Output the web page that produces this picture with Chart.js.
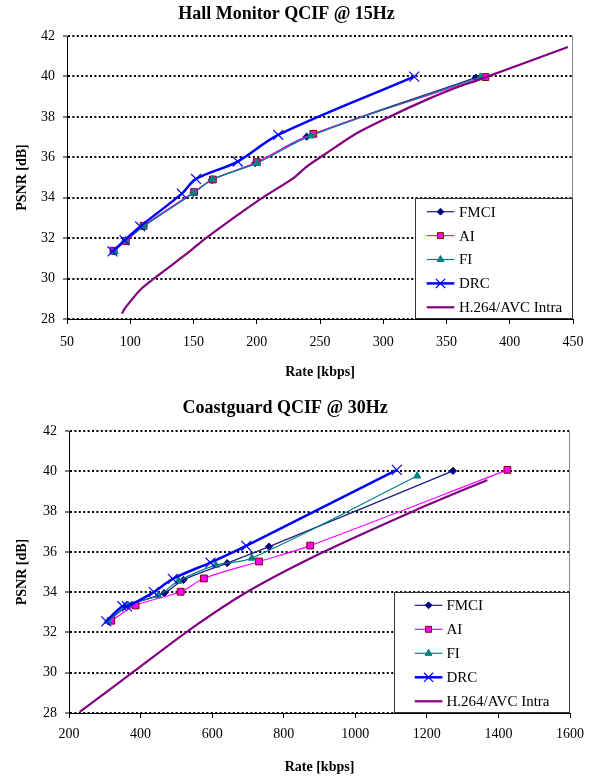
<!DOCTYPE html>
<html><head><meta charset="utf-8">
<script src="https://cdn.jsdelivr.net/npm/chart.js@4.4.1/dist/chart.umd.min.js"></script>
<style>
html,body{margin:0;padding:0;background:#fff;width:602px;height:780px;overflow:hidden}
canvas{display:block;position:absolute;left:0}
#c1{top:0}#c2{top:392px}
</style></head><body>
<canvas id="c1" width="602" height="392"></canvas>
<canvas id="c2" width="602" height="388"></canvas>
<script>
// ---- series names ----
const seriesNames = ['FMCI', 'AI', 'FI', 'DRC', 'H.264/AVC Intra'];

// ---- Hall Monitor QCIF @ 15Hz ----
const hallFMCI_rate = [86.8, 96, 110.5, 150, 164.5, 198.7, 239.5, 373.2];
const hallFMCI_psnr = [31.34, 31.84, 32.58, 34.23, 34.88, 35.71, 37.02, 39.94];
const hallAI_rate = [86.8, 96.5, 110.5, 150.5, 165.3, 200, 244.7, 380.8];
const hallAI_psnr = [31.38, 31.86, 32.61, 34.28, 34.9, 35.76, 37.16, 39.97];
const hallFI_rate = [87.6, 96.3, 110.5, 150, 164.8, 200, 242.6, 376.8];
const hallFI_psnr = [31.34, 31.9, 32.58, 34.23, 34.9, 35.71, 37.06, 39.97];
const hallDRC_rate = [86, 95.5, 107.9, 140.8, 152, 185, 217, 324.5];
const hallDRC_psnr = [31.34, 31.89, 32.58, 34.2, 34.93, 35.79, 37.11, 39.99];
const hallH264_rate = [93.4, 96, 108, 121, 147, 158, 200, 229, 239.5, 255, 279, 305, 334, 360, 373, 446];
const hallH264_psnr = [28.27, 28.55, 29.45, 30.11, 31.34, 31.92, 33.81, 34.97, 35.54, 36.2, 37.19, 38.01, 38.84, 39.5, 39.78, 41.46];

// ---- Coastguard QCIF @ 30Hz ----
const cgFMCI_rate = [310, 365, 466, 520, 642, 759, 1273];
const cgFMCI_psnr = [32.55, 33.32, 33.95, 34.61, 35.44, 36.26, 40.02];
const cgAI_rate = [318, 386, 512, 577, 731, 874, 1425];
const cgAI_psnr = [32.58, 33.34, 34.02, 34.68, 35.52, 36.31, 40.07];
const cgFI_rate = [309, 365, 449, 506, 610, 711, 1173];
const cgFI_psnr = [32.55, 33.35, 33.83, 34.55, 35.34, 35.69, 39.77];
const cgDRC_rate = [304, 349, 362, 437, 490, 595, 695, 1116];
const cgDRC_psnr = [32.55, 33.3, 33.29, 34.0, 34.66, 35.47, 36.3, 40.07];
const cgH264_rate = [230, 388, 537, 695, 905, 1170, 1369];
const cgH264_psnr = [28.05, 30.15, 32.13, 33.98, 35.94, 38.08, 39.57];

// ---- axis ticks ----
const psnrMin = 28, psnrMax = 42, psnrStep = 2;
const hallRateMin = 50, hallRateMax = 450, hallRateStep = 50;
const cgRateMin = 200, cgRateMax = 1600, cgRateStep = 200;

const SERIF = '"Liberation Serif", "DejaVu Serif", serif';

function pts(xs, ys) { return xs.map((x, i) => ({x: x, y: ys[i]})); }

const styles = [
  {borderColor: '#1c1c84', backgroundColor: '#000080', pointBorderColor: '#000080', pointStyle: 'rectRot', pointRadius: 3.6, borderWidth: 1.2, legR: 3.4},
  {borderColor: '#ff00ff', backgroundColor: '#ff00ff', pointBorderColor: '#800000', pointStyle: 'rect', pointRadius: 4.8, borderWidth: 1.2, legR: 4.2},
  {borderColor: '#008080', backgroundColor: '#008080', pointBorderColor: '#008080', pointStyle: 'triangle', pointRadius: 4.2, borderWidth: 1.2, legR: 4},
  {borderColor: '#0000ff', backgroundColor: '#0000ff', pointBorderColor: '#0000ff', pointStyle: 'crossRot', pointRadius: 7, borderWidth: 2.5, legR: 6.5},
  {borderColor: '#800080', backgroundColor: '#800080', pointBorderColor: '#800080', pointStyle: false, pointRadius: 0, borderWidth: 2.2, legR: 0}
];

function buildDatasets(list) {
  return list.map((d, i) => ({
    label: seriesNames[i],
    data: d,
    borderColor: styles[i].borderColor,
    backgroundColor: styles[i].backgroundColor,
    pointBackgroundColor: styles[i].backgroundColor,
    pointBorderColor: styles[i].pointBorderColor,
    pointBorderWidth: i === 3 ? 1.2 : 1,
    pointStyle: styles[i].pointStyle,
    pointRadius: styles[i].pointRadius,
    borderWidth: styles[i].borderWidth,
    tension: i === 4 ? 0.25 : 0.35,
    fill: false,
    order: 4 - i
  }));
}

const framePlugin = {
  id: 'frame',
  beforeDatasetsDraw(chart, args, opts) {
    const ctx = chart.ctx, a = chart.chartArea;
    ctx.save();
    ctx.strokeStyle = '#8a8a8a';
    ctx.lineWidth = 1;
    ctx.beginPath();
    ctx.moveTo(a.right - 0.5, a.top);
    ctx.lineTo(a.right - 0.5, a.bottom);
    ctx.stroke();
    const L = opts.box;
    const bx = a.right - L.w, by = a.bottom - L.h;
    ctx.fillStyle = '#fff';
    ctx.fillRect(bx, by, L.w, L.h);
    ctx.strokeStyle = '#333';
    ctx.lineWidth = 1;
    ctx.strokeRect(bx + 0.5, by + 0.5, L.w - 1, L.h - 1);
    chart.data.datasets.forEach((ds, i) => {
      const y = by + L.y0 + L.dy * i;
      const x0 = bx + L.lx, x1 = bx + L.lx + L.lw;
      ctx.strokeStyle = ds.borderColor;
      ctx.lineWidth = ds.borderWidth;
      ctx.beginPath();
      ctx.moveTo(x0, y); ctx.lineTo(x1, y); ctx.stroke();
      if (ds.pointStyle) {
        ctx.fillStyle = ds.pointBackgroundColor;
        ctx.strokeStyle = ds.pointBorderColor;
        ctx.lineWidth = ds.pointBorderWidth;
        Chart.helpers.drawPoint(ctx, {pointStyle: ds.pointStyle, radius: styles[i].legR, rotation: 0, borderWidth: ds.pointBorderWidth}, (x0 + x1) / 2, y);
      }
      ctx.fillStyle = '#000';
      ctx.font = '15px ' + SERIF;
      ctx.textBaseline = 'middle';
      ctx.textAlign = 'left';
      ctx.fillText(ds.label, bx + L.tx, y + 1);
    });
    ctx.restore();
  }
};

function makeChart(id, c) {
  return new Chart(document.getElementById(id), {
    type: 'line',
    data: {datasets: buildDatasets(c.series)},
    options: {
      responsive: false,
      animation: false,
      layout: {padding: {left: 0, right: c.padRight, top: 0, bottom: 0}},
      plugins: {
        legend: {display: false},
        tooltip: {enabled: false},
        title: {display: true, text: c.title, color: '#000',
          font: {family: SERIF, size: 18, weight: 'bold'},
          padding: {top: c.titleTop, bottom: c.titleBottom}},
        frame: {box: c.box}
      },
      scales: {
        x: {
          type: 'linear', min: c.xMin, max: c.xMax,
          ticks: {stepSize: c.xStep, color: '#000', font: {family: SERIF, size: 14}, padding: c.xTickPad, maxRotation: 0,
            callback: v => String(v)},
          grid: {drawOnChartArea: false, drawTicks: true, tickLength: 5, tickColor: '#000', tickWidth: 1},
          border: {color: '#000', width: 1},
          title: {display: true, text: 'Rate [kbps]', color: '#000', font: {family: SERIF, size: 14, weight: 'bold'}, padding: {top: 0, bottom: c.xTitlePad}},
          afterFit(s) { s.height = c.xHeight; }
        },
        y: {
          min: psnrMin, max: psnrMax,
          ticks: {stepSize: psnrStep, color: '#000', font: {family: SERIF, size: 14}, padding: 8,
            callback: v => String(v)},
          grid: {color: '#000', lineWidth: 2, drawTicks: true, tickLength: 4, tickColor: '#000', tickWidth: 1},
          border: {color: '#000', width: 1, dash: [2, 2.4]},
          title: {display: true, text: 'PSNR [dB]', color: '#000', font: {family: SERIF, size: 14, weight: 'bold'}, padding: {top: 13.6, bottom: 0}},
          afterFit(s) { s.width = c.yWidth; }
        }
      }
    },
    plugins: [framePlugin]
  });
}

makeChart('c1', {
  title: 'Hall Monitor QCIF @ 15Hz',
  series: [pts(hallFMCI_rate, hallFMCI_psnr), pts(hallAI_rate, hallAI_psnr), pts(hallFI_rate, hallFI_psnr), pts(hallDRC_rate, hallDRC_psnr), pts(hallH264_rate, hallH264_psnr)],
  xMin: hallRateMin, xMax: hallRateMax, xStep: hallRateStep,
  padRight: 29, titleTop: 3.4, titleBottom: 11,
  xHeight: 73, xTickPad: 9.5, xTitlePad: 11.6, yWidth: 67,
  box: {w: 158, h: 121, y0: 13.7, dy: 23.9, lx: 11.7, lw: 27.6, tx: 44}
});

makeChart('c2', {
  title: 'Coastguard QCIF @ 30Hz',
  series: [pts(cgFMCI_rate, cgFMCI_psnr), pts(cgAI_rate, cgAI_psnr), pts(cgFI_rate, cgFI_psnr), pts(cgDRC_rate, cgDRC_psnr), pts(cgH264_rate, cgH264_psnr)],
  xMin: cgRateMin, xMax: cgRateMax, xStep: cgRateStep,
  padRight: 32, titleTop: 5.2, titleBottom: 12.2,
  xHeight: 67, xTickPad: 7.5, xTitlePad: 4.6, yWidth: 69,
  box: {w: 176, h: 121, y0: 13.3, dy: 24, lx: 20.7, lw: 27.7, tx: 52.4}
});
</script>
</body></html>
